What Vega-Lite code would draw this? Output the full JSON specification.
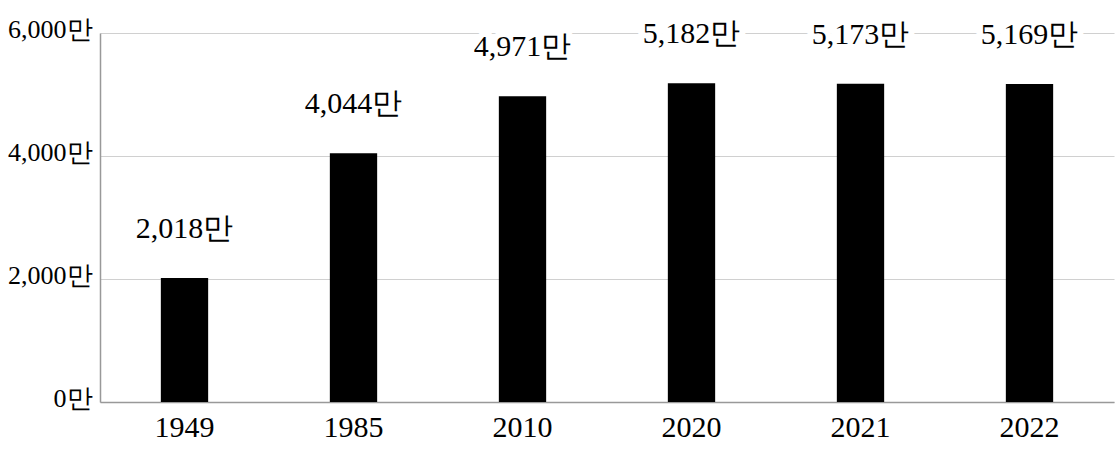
{
  "$schema": "https://vega.github.io/schema/vega-lite/v6.json",
  "width": 1014,
  "height": 369,
  "autosize": {"type": "none"},
  "padding": {"left": 100, "top": 33, "right": 2, "bottom": 53},
  "background": "white",
  "config": {"view": {"stroke": null}, "font": "Liberation Serif"},
  "data": {"values": [
    {"year": "1949", "pop": 2018},
    {"year": "1985", "pop": 4044},
    {"year": "2010", "pop": 4971},
    {"year": "2020", "pop": 5182},
    {"year": "2021", "pop": 5173},
    {"year": "2022", "pop": 5169}
  ]},
  "encoding": {
    "x": {"field": "year", "type": "nominal", "sort": null,
      "scale": {"paddingInner": 0.72, "paddingOuter": 0.36},
      "axis": {"title": null, "labelAngle": 0, "labelFont": "Liberation Serif", "labelFontSize": 30, "labelColor": "black", "ticks": false, "labelPadding": 10, "domainColor": "#999", "domainWidth": 1.5}},
    "y": {"field": "pop", "type": "quantitative",
      "scale": {"domain": [0, 6000]},
      "axis": {"title": null, "values": [0, 2000, 4000, 6000], "labelExpr": "format(datum.value, ',') + '만'", "labelFont": "Liberation Serif", "labelFontSize": 26, "labelColor": "black", "ticks": false, "labelPadding": 8, "labelOffset": -4, "domainColor": "#999", "domainWidth": 1.5, "gridColor": "#d0d0d0", "gridWidth": 1.2}}
  },
  "transform": [{"calculate": "format(datum.pop, ',') + '만'", "as": "lab"}],
  "layer": [
    {"mark": {"type": "bar", "color": "black"}},
    {"mark": {"type": "text", "baseline": "bottom", "dy": -34, "fontSize": 30, "font": "Liberation Serif", "stroke": "white", "strokeWidth": 12, "fill": "white"},
      "encoding": {"text": {"field": "lab", "type": "nominal"}}},
    {"mark": {"type": "text", "baseline": "bottom", "dy": -34, "fontSize": 30, "font": "Liberation Serif", "color": "black"},
      "encoding": {"text": {"field": "lab", "type": "nominal"}}}
  ]
}
